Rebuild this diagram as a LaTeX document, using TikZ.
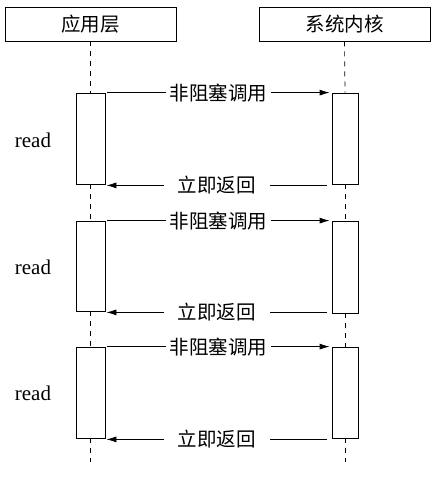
\documentclass[tikz,border=0pt]{standalone}
\usepackage{fontspec}
\setmainfont{Liberation Serif}
\newfontfamily\cjk{Noto Sans CJK SC}
\usetikzlibrary{arrows.meta}
\begin{document}
\begin{tikzpicture}[x=1pt,y=-1pt,
  header/.style={draw,line width=0.8pt,minimum width=171pt,minimum height=34pt,inner sep=0pt,font=\cjk\fontsize{19.5}{22}\selectfont},
  lbar/.style={draw,line width=0.8pt,minimum width=29pt,inner sep=0pt},
  rbar/.style={draw,line width=0.8pt,minimum width=26pt,inner sep=0pt},
  life/.style={line width=0.7pt,dash pattern=on 5pt off 5pt},
  msg/.style={line width=0.8pt,-{Latex[length=10pt,width=6pt]}},
  msglabel/.style={fill=white,inner xsep=4pt,inner ysep=1pt,font=\cjk\fontsize{19.5}{22}\selectfont},
  readlabel/.style={font=\fontsize{21}{23}\selectfont}]
\useasboundingbox (0,0) rectangle (441,477);
\node[header] (h1) at (90.5,24) {应用层};
\node[header] (h2) at (344.5,24) {系统内核};
% bars
\node[lbar,minimum height=91pt] (a1) at (90.5,138.5) {};
\node[rbar,minimum height=91pt] (b1) at (345,138.5) {};
\node[lbar,minimum height=90pt] (a2) at (90.5,266) {};
\node[rbar,minimum height=92pt] (b2) at (345,267) {};
\node[lbar,minimum height=91pt] (a3) at (90.5,392.5) {};
\node[rbar,minimum height=91pt] (b3) at (345,392.5) {};
\coordinate (e1) at (90.5,462);
\coordinate (e2) at (345,462);
% lifelines
\draw[life] (h1.south) -- (a1.north);
\draw[life] (a1.south) -- (a2.north);
\draw[life] (a2.south) -- (a3.north);
\draw[life] (a3.south) -- (e1);
\draw[life] (h2.south) -- (b1.north);
\draw[life] (b1.south) -- (b2.north);
\draw[life] (b2.south) -- (b3.north);
\draw[life] (b3.south) -- (e2);
% read labels
\node[readlabel] (r1) at (33,140) {read};
\node[readlabel] (r2) at (33,267) {read};
\node[readlabel] (r3) at (33,393) {read};
% messages
\foreach \i in {1,2,3}{
  \draw[msg] ([xshift=2pt]a\i.north east) -- node[msglabel]{非阻塞调用} ([xshift=-2pt]a\i.north east -| b\i.west);
  \draw[msg] ([xshift=-5pt,yshift=-1pt]b\i.south west |- a\i.south) -- node[msglabel,inner xsep=14pt]{立即返回} ([xshift=1pt,yshift=-1pt]a\i.south east);
}
\end{tikzpicture}
\end{document}
